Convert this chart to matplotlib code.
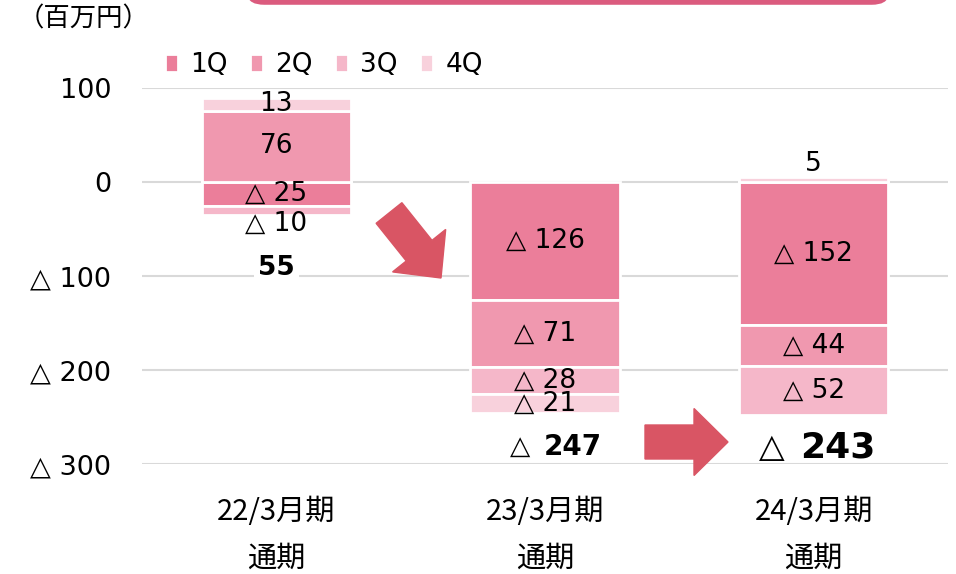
import matplotlib
matplotlib.use("Agg")
import matplotlib.pyplot as plt
import matplotlib.patches as mpatches
import numpy as np

plt.rcParams['font.family'] = ['DejaVu Sans', 'Noto Sans CJK JP']

periods = ["22/3月期", "23/3月期", "24/3月期"]
quarters = ["1Q", "2Q", "3Q", "4Q"]
q1 = [-25, -126, -152]
q2 = [76, -71, -44]
q3 = [-10, -28, -52]
q4 = [13, -21, 5]
totals = [55, -247, -243]

colors = ["#EB7E9A", "#F098AF", "#F5B7C9", "#F8D1DC"]
arrow_col = "#D95564"

W, H = 956, 574
fig = plt.figure(figsize=(W / 100, H / 100), dpi=100)
ax = fig.add_axes([142 / W, 1 - 464 / H, 806 / W, 376 / H])

x = np.arange(len(periods))
pos_bottom = np.zeros(len(periods))
neg_bottom = np.zeros(len(periods))
for qi, (name, vals) in enumerate(zip(quarters, [q1, q2, q3, q4])):
    vals = np.array(vals, dtype=float)
    bottom = np.where(vals >= 0, pos_bottom, neg_bottom)
    ax.bar(x, vals, 0.555, bottom=bottom, color=colors[qi], edgecolor="white",
           linewidth=2, label=name, zorder=3)
    for i, v in enumerate(vals):
        txt = f"△ {abs(int(v))}" if v < 0 else f"{int(v)}"
        if abs(v) <= 10:
            # small segments get their label outside the bar end
            if v > 0:
                ax.text(i, bottom[i] + v, txt, ha="center", va="bottom", fontsize=19, zorder=5)
            else:
                ax.annotate(txt, (i, bottom[i] + v), xytext=(0, 3), textcoords="offset points",
                            ha="center", va="top", fontsize=19, zorder=5)
        else:
            ax.text(i, bottom[i] + v / 2, txt, ha="center", va="center", fontsize=19, zorder=5)
    pos_bottom = pos_bottom + np.where(vals >= 0, vals, 0)
    neg_bottom = neg_bottom + np.where(vals < 0, vals, 0)

# totals
total_y = [-91, -282, -282]
for i, t in enumerate(totals):
    if t >= 0:
        ax.text(i, total_y[i], f"{t}", ha="center", va="center", fontsize=19,
                fontweight="bold", zorder=5,
                bbox=dict(facecolor="white", edgecolor="none", pad=3))
    else:
        big = i == 2
        ax.annotate("△", (i, total_y[i]), xytext=(-21 if big else -11, 0),
                    textcoords="offset points", ha="right", va="center",
                    fontsize=24 if big else 19, zorder=5)
        ax.annotate(f"{abs(t)}", (i, total_y[i]), xytext=(-10 if big else -1, 0),
                    textcoords="offset points", ha="left", va="center",
                    fontsize=26 if big else 20, fontweight="bold", zorder=5)

ax.set_xlim(-0.5, 2.5)
ax.set_ylim(-300, 100)
ax.set_yticks([100, 0, -100, -200, -300])
ax.set_yticklabels(["100", "0", "△ 100", "△ 200", "△ 300"], fontsize=19.5)
ax.set_xticks(x)
ax.set_xticklabels([p + "\n通期" for p in periods], fontsize=21, linespacing=1.7,
                   family=["Noto Sans CJK JP"])
ax.tick_params(length=0, axis="y", pad=22)
ax.tick_params(length=0, axis="x", pad=24)
for s in ax.spines.values():
    s.set_visible(False)
ax.yaxis.grid(True, color="#D9D9D9", linewidth=1.5, zorder=0)
ax.set_axisbelow(True)

fig.text(18 / W, 1 - 19 / H, "（百万円）", fontsize=19, ha="left", va="center",
         family=["Noto Sans CJK JP"])

fig.legend(loc="center", bbox_to_anchor=(324 / W, 1 - 65 / H), ncol=4, frameon=False,
           fontsize=19, handlelength=0.5, handleheight=0.7, handletextpad=0.45,
           columnspacing=0.85)


def px(pts):
    return [(a / W, 1 - b / H) for a, b in pts]


def arrow_poly(tail, tip, shaft_w, head_w, head_l):
    tail = np.array(tail, float)
    tip = np.array(tip, float)
    d = tip - tail
    d /= np.linalg.norm(d)
    n = np.array([-d[1], d[0]])
    base = tip - d * head_l
    pts = [tail + n * shaft_w / 2, base + n * shaft_w / 2, base + n * head_w / 2, tip,
           base - n * head_w / 2, base - n * shaft_w / 2, tail - n * shaft_w / 2]
    return px(pts)


fig.patches.append(mpatches.Polygon(arrow_poly((389, 213), (441, 278), 33, 68, 35),
                                    closed=True, color=arrow_col, transform=fig.transFigure))
fig.patches.append(mpatches.Polygon(arrow_poly((645, 442), (728, 442), 34, 67, 34),
                                    closed=True, color=arrow_col, transform=fig.transFigure))

# box edge at top (mostly outside the picture)
fig.patches.append(mpatches.FancyBboxPatch((250 / W, 1 - 2 / H), 636 / W, 60 / H,
                                           boxstyle="round,pad=0,rounding_size=0.015",
                                           facecolor="white", edgecolor="#DB5B7E", linewidth=4,
                                           transform=fig.transFigure))

fig.savefig("out.png", dpi=100)
